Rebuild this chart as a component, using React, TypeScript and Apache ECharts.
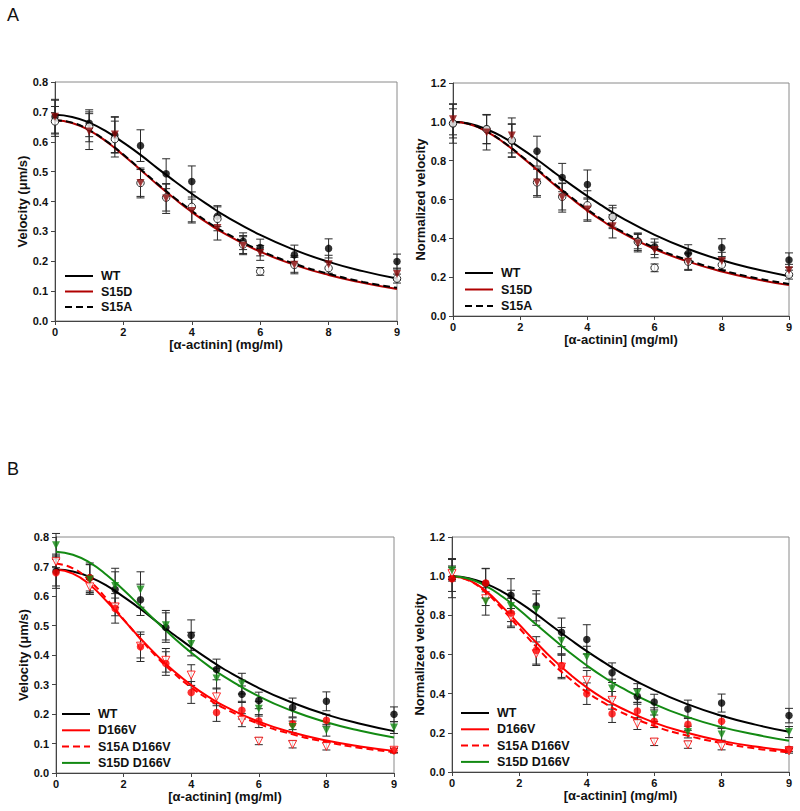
import React, { useEffect, useRef } from 'react';
import * as echarts from 'echarts';

// Plotted x positions of measured points (last tick drawn at 10, labelled "9" in the figure)
const xPoints = [0, 1, 1.75, 2.5, 3.25, 4, 4.75, 5.5, 6, 7, 8, 10];
// x positions where the fitted curves were read
const xCurve = [0, 0.5, 1, 1.5, 2, 2.5, 3, 3.5, 4, 4.5, 5, 6, 7, 8, 9, 10];
const xTickValues = [0, 2, 4, 6, 8, 10];
const xTickLabels = ['0', '2', '4', '6', '8', '9'];

// ---- Panel A, velocity ----
const aWT = [0.684, 0.662, 0.622, 0.587, 0.493, 0.467, 0.351, 0.267, 0.246, 0.222, 0.243, 0.199];
const aWTErr = [0.058, 0.045, 0.06, 0.053, 0.05, 0.052, 0.035, 0.028, 0.028, 0.032, 0.032, 0.025];
const aS15D = [0.684, 0.634, 0.624, 0.462, 0.41, 0.368, 0.311, 0.252, 0.228, 0.188, 0.19, 0.157];
const aS15DErr = [0.055, 0.06, 0.06, 0.05, 0.05, 0.04, 0.04, 0.03, 0.025, 0.03, 0.03, 0.02];
const aS15A = [0.668, 0.65, 0.609, 0.462, 0.413, 0.382, 0.342, 0.256, 0.166, 0.188, 0.177, 0.142];
const aS15AErr = [0.05, 0.05, 0.06, 0.045, 0.045, 0.05, 0.04, 0.03, 0.013, 0.025, 0.02, 0.015];
const fitAWT = [0.69, 0.683, 0.664, 0.635, 0.597, 0.556, 0.511, 0.468, 0.426, 0.387, 0.35, 0.288, 0.238, 0.198, 0.167, 0.142];
const fitAS15D = [0.672, 0.663, 0.638, 0.601, 0.555, 0.506, 0.456, 0.409, 0.365, 0.325, 0.29, 0.232, 0.188, 0.154, 0.128, 0.107];
const fitAS15A = [0.672, 0.664, 0.639, 0.602, 0.557, 0.508, 0.459, 0.412, 0.369, 0.329, 0.294, 0.236, 0.192, 0.158, 0.131, 0.111];

// ---- Panel A, normalized ----
const nWT = [0.99, 0.963, 0.902, 0.849, 0.713, 0.677, 0.507, 0.386, 0.357, 0.322, 0.352, 0.288];
const nWTErr = [0.1, 0.075, 0.085, 0.077, 0.073, 0.075, 0.05, 0.04, 0.04, 0.045, 0.046, 0.037];
const nS15D = [1.013, 0.945, 0.93, 0.687, 0.61, 0.548, 0.462, 0.375, 0.34, 0.28, 0.283, 0.236];
const nS15DErr = [0.08, 0.09, 0.09, 0.075, 0.075, 0.06, 0.06, 0.045, 0.04, 0.045, 0.045, 0.03];
const nS15A = [0.992, 0.962, 0.905, 0.688, 0.614, 0.57, 0.51, 0.382, 0.248, 0.28, 0.264, 0.213];
const nS15AErr = [0.075, 0.075, 0.085, 0.068, 0.068, 0.075, 0.06, 0.045, 0.02, 0.04, 0.03, 0.023];
const fitNWT = [1, 0.99, 0.962, 0.92, 0.866, 0.806, 0.741, 0.678, 0.617, 0.561, 0.508, 0.418, 0.345, 0.287, 0.242, 0.205];
const fitNS15D = [1, 0.987, 0.95, 0.894, 0.826, 0.753, 0.679, 0.609, 0.543, 0.484, 0.432, 0.345, 0.28, 0.229, 0.19, 0.159];
const fitNS15A = [1, 0.988, 0.951, 0.896, 0.829, 0.757, 0.684, 0.614, 0.549, 0.49, 0.438, 0.352, 0.287, 0.236, 0.196, 0.165];

// ---- Panel B, velocity ----
const bD166V = [0.679, 0.662, 0.558, 0.428, 0.371, 0.273, 0.205, 0.213, 0.176, 0.167, 0.179, 0.076];
const bD166VErr = [0.045, 0.05, 0.05, 0.05, 0.04, 0.037, 0.03, 0.03, 0.022, 0.02, 0.02, 0.008];
const bS15AD = [0.716, 0.631, 0.563, 0.43, 0.382, 0.332, 0.258, 0.179, 0.108, 0.097, 0.09, 0.077];
const bS15ADErr = [0.02, 0.025, 0.03, 0.04, 0.04, 0.035, 0.03, 0.022, 0.012, 0.012, 0.012, 0.008];
const bS15DD = [0.772, 0.656, 0.634, 0.622, 0.501, 0.437, 0.32, 0.303, 0.218, 0.156, 0.145, 0.154];
const bS15DDErr = [0.04, 0.05, 0.06, 0.06, 0.05, 0.04, 0.035, 0.035, 0.025, 0.02, 0.02, 0.02];
const fitBD166V = [0.69, 0.676, 0.638, 0.582, 0.519, 0.456, 0.397, 0.344, 0.298, 0.259, 0.226, 0.174, 0.137, 0.11, 0.09, 0.075];
const fitBS15AD = [0.71, 0.694, 0.651, 0.59, 0.521, 0.454, 0.391, 0.337, 0.29, 0.251, 0.218, 0.167, 0.131, 0.105, 0.085, 0.071];
const fitBS15DD = [0.75, 0.74, 0.713, 0.671, 0.62, 0.565, 0.51, 0.457, 0.408, 0.364, 0.325, 0.26, 0.21, 0.172, 0.143, 0.12];

// ---- Panel B, normalized ----
const nD166V = [0.987, 0.965, 0.812, 0.621, 0.543, 0.4, 0.298, 0.311, 0.259, 0.243, 0.259, 0.116];
const nD166VErr = [0.065, 0.075, 0.075, 0.07, 0.06, 0.055, 0.045, 0.045, 0.032, 0.03, 0.03, 0.012];
const nS15AD = [1.013, 0.885, 0.79, 0.604, 0.536, 0.468, 0.366, 0.247, 0.153, 0.139, 0.131, 0.108];
const nS15ADErr = [0.03, 0.035, 0.045, 0.06, 0.06, 0.05, 0.045, 0.03, 0.018, 0.018, 0.018, 0.012];
const nS15DD = [1.03, 0.871, 0.848, 0.829, 0.67, 0.587, 0.426, 0.403, 0.293, 0.204, 0.192, 0.204];
const nS15DDErr = [0.055, 0.07, 0.08, 0.08, 0.068, 0.055, 0.048, 0.048, 0.035, 0.03, 0.03, 0.028];
const fitND166V = [1, 0.98, 0.925, 0.843, 0.752, 0.661, 0.575, 0.499, 0.432, 0.375, 0.328, 0.252, 0.199, 0.159, 0.13, 0.109];
const fitNS15AD = [1, 0.978, 0.917, 0.831, 0.734, 0.639, 0.551, 0.475, 0.408, 0.354, 0.307, 0.235, 0.185, 0.148, 0.12, 0.1];
const fitNS15DD = [1, 0.987, 0.951, 0.895, 0.827, 0.753, 0.68, 0.609, 0.544, 0.485, 0.433, 0.347, 0.28, 0.229, 0.191, 0.16];

const legendA = ['WT', 'S15D', 'S15A'];
const legendB = ['WT', 'D166V', 'S15A D166V', 'S15D D166V'];

const FONT = '"Liberation Sans", Arial, Helvetica, sans-serif';
const BLACK = '#000000';
const DARKRED = '#b00000';
const MAROON = '#8b0a0a';
const RED = '#ff0000';
const GREEN = '#138a13';

const pairs = (xs: number[], ys: number[]) => xs.map((x, i) => [x, ys[i]]);
const triples = (xs: number[], ys: number[], es: number[]) => xs.map((x, i) => [x, ys[i], es[i]]);

function errSeries(idx: number, ys: number[], es: number[]) {
  return {
    type: 'custom',
    xAxisIndex: idx,
    yAxisIndex: idx,
    silent: true,
    z: 1,
    encode: { x: 0, y: 1 },
    data: triples(xPoints, ys, es),
    renderItem: (_p: any, api: any) => {
      const x = api.value(0);
      const y = api.value(1);
      const e = api.value(2);
      const t = api.coord([x, y + e]);
      const b = api.coord([x, y - e]);
      const cw = 4;
      const st = { stroke: '#2a2a2a', lineWidth: 1 };
      return {
        type: 'group',
        children: [
          { type: 'line', shape: { x1: t[0], y1: t[1], x2: b[0], y2: b[1] }, style: st },
          { type: 'line', shape: { x1: t[0] - cw, y1: t[1], x2: t[0] + cw, y2: t[1] }, style: st },
          { type: 'line', shape: { x1: b[0] - cw, y1: b[1], x2: b[0] + cw, y2: b[1] }, style: st },
        ],
      };
    },
  };
}

function curveSeries(idx: number, name: string, ys: number[], color: string, dashed: boolean) {
  return {
    type: 'line',
    name,
    xAxisIndex: idx,
    yAxisIndex: idx,
    data: pairs(xCurve, ys),
    smooth: 0.5,
    symbol: 'none',
    silent: true,
    z: 3,
    lineStyle: { color, width: 2, type: dashed ? [7, 4] : 'solid' },
  };
}

function markSeries(idx: number, name: string, ys: number[], shape: 'circle' | 'tri', color: string, open: boolean) {
  return {
    type: 'scatter',
    name,
    xAxisIndex: idx,
    yAxisIndex: idx,
    data: pairs(xPoints, ys),
    symbol: shape === 'circle' ? 'circle' : 'triangle',
    symbolRotate: shape === 'tri' ? 180 : 0,
    symbolSize: shape === 'circle' ? 7.5 : 8,
    silent: true,
    z: 4,
    itemStyle: open
      ? { color: '#ffffff', borderColor: color, borderWidth: 1 }
      : { color, borderColor: color, borderWidth: 0 },
  };
}

const grids = [
  { left: 55, top: 82, width: 342, height: 239 },
  { left: 453, top: 83, width: 336, height: 233 },
  { left: 56, top: 537, width: 338, height: 236 },
  { left: 452, top: 537, width: 337, height: 235 },
];

const labelStyle = { fontFamily: FONT, fontWeight: 'bold' as const, fontSize: 11, color: '#111' };
const nameStyle = { fontFamily: FONT, fontWeight: 'bold' as const, fontSize: 13, color: '#111' };

function xAxis(idx: number) {
  return {
    type: 'value',
    gridIndex: idx,
    min: 0,
    max: 10,
    interval: 2,
    name: '[α-actinin] (mg/ml)',
    nameLocation: 'middle',
    nameGap: 16,
    nameTextStyle: nameStyle,
    axisLine: { show: true, lineStyle: { color: '#444', width: 1 } },
    axisTick: { show: true, inside: false, length: 4, lineStyle: { color: '#444' } },
    axisLabel: {
      ...labelStyle,
      margin: 5,
      formatter: (v: number) => {
        const i = xTickValues.indexOf(v);
        return i >= 0 ? xTickLabels[i] : '';
      },
    },
    splitLine: { show: false },
  };
}

function yAxis(idx: number, max: number, interval: number, name: string) {
  return {
    type: 'value',
    gridIndex: idx,
    min: 0,
    max,
    interval,
    name,
    nameLocation: 'middle',
    nameGap: 26,
    nameTextStyle: nameStyle,
    axisLine: { show: true, lineStyle: { color: '#444', width: 1 } },
    axisTick: { show: true, inside: false, length: 4, lineStyle: { color: '#444' } },
    axisLabel: { ...labelStyle, margin: 7, formatter: (v: number) => v.toFixed(1) },
    splitLine: { show: false },
  };
}

function legendGraphics(x: number, y0: number, step: number, names: string[], colors: string[], dashes: boolean[]) {
  const out: any[] = [];
  names.forEach((n, i) => {
    const y = y0 + i * step;
    out.push({
      type: 'line',
      shape: { x1: x, y1: y, x2: x + 28, y2: y },
      style: { stroke: colors[i], lineWidth: 2, lineDash: dashes[i] ? [7, 4] : null },
      silent: true,
    });
    out.push({
      type: 'text',
      x: x + 36,
      y,
      style: { text: n, fill: '#111', font: `bold 12.5px ${FONT}`, textVerticalAlign: 'middle' },
      silent: true,
    });
  });
  return out;
}

export default function App() {
  const ref = useRef<HTMLDivElement>(null);

  useEffect(() => {
    document.body.style.margin = '0';
    if (!ref.current) return;
    const chart = echarts.init(ref.current, undefined, { renderer: 'svg' });

    const colorsA = [BLACK, DARKRED, BLACK];
    const dashA = [false, false, true];
    const colorsB = [BLACK, RED, RED, GREEN];
    const dashB = [false, false, true, false];

    const option: any = {
      animation: false,
      backgroundColor: '#ffffff',
      grid: grids.map((g) => ({ ...g, show: true, borderColor: '#8a8a8a', borderWidth: 1, backgroundColor: 'transparent' })),
      xAxis: [xAxis(0), xAxis(1), xAxis(2), xAxis(3)],
      yAxis: [
        yAxis(0, 0.8, 0.1, 'Velocity (μm/s)'),
        yAxis(1, 1.2, 0.2, 'Normalized velocity'),
        yAxis(2, 0.8, 0.1, 'Velocity (μm/s)'),
        yAxis(3, 1.2, 0.2, 'Normalized velocity'),
      ],
      series: [
        // Panel A velocity
        errSeries(0, aWT, aWTErr),
        errSeries(0, aS15D, aS15DErr),
        errSeries(0, aS15A, aS15AErr),
        curveSeries(0, 'WT', fitAWT, BLACK, false),
        curveSeries(0, 'S15D', fitAS15D, DARKRED, false),
        curveSeries(0, 'S15A', fitAS15A, BLACK, true),
        markSeries(0, 'WT data', aWT, 'circle', BLACK, false),
        markSeries(0, 'S15A data', aS15A, 'circle', BLACK, true),
        markSeries(0, 'S15D data', aS15D, 'tri', MAROON, false),
        // Panel A normalized
        errSeries(1, nWT, nWTErr),
        errSeries(1, nS15D, nS15DErr),
        errSeries(1, nS15A, nS15AErr),
        curveSeries(1, 'WT', fitNWT, BLACK, false),
        curveSeries(1, 'S15D', fitNS15D, DARKRED, false),
        curveSeries(1, 'S15A', fitNS15A, BLACK, true),
        markSeries(1, 'WT data', nWT, 'circle', BLACK, false),
        markSeries(1, 'S15A data', nS15A, 'circle', BLACK, true),
        markSeries(1, 'S15D data', nS15D, 'tri', MAROON, false),
        // Panel B velocity
        errSeries(2, aWT, aWTErr),
        errSeries(2, bD166V, bD166VErr),
        errSeries(2, bS15AD, bS15ADErr),
        errSeries(2, bS15DD, bS15DDErr),
        curveSeries(2, 'WT', fitAWT, BLACK, false),
        curveSeries(2, 'D166V', fitBD166V, RED, false),
        curveSeries(2, 'S15A D166V', fitBS15AD, RED, true),
        curveSeries(2, 'S15D D166V', fitBS15DD, GREEN, false),
        markSeries(2, 'WT data', aWT, 'circle', BLACK, false),
        markSeries(2, 'S15A D166V data', bS15AD, 'tri', RED, true),
        markSeries(2, 'D166V data', bD166V, 'circle', RED, false),
        markSeries(2, 'S15D D166V data', bS15DD, 'tri', GREEN, false),
        // Panel B normalized
        errSeries(3, nWT, nWTErr),
        errSeries(3, nD166V, nD166VErr),
        errSeries(3, nS15AD, nS15ADErr),
        errSeries(3, nS15DD, nS15DDErr),
        curveSeries(3, 'WT', fitNWT, BLACK, false),
        curveSeries(3, 'D166V', fitND166V, RED, false),
        curveSeries(3, 'S15A D166V', fitNS15AD, RED, true),
        curveSeries(3, 'S15D D166V', fitNS15DD, GREEN, false),
        markSeries(3, 'WT data', nWT, 'circle', BLACK, false),
        markSeries(3, 'S15A D166V data', nS15AD, 'tri', RED, true),
        markSeries(3, 'D166V data', nD166V, 'circle', RED, false),
        markSeries(3, 'S15D D166V data', nS15DD, 'tri', GREEN, false),
      ],
      graphic: [
        { type: 'text', x: 7, y: 6, style: { text: 'A', fill: '#111', font: `18px ${FONT}` }, silent: true },
        { type: 'text', x: 7, y: 460, style: { text: 'B', fill: '#111', font: `18px ${FONT}` }, silent: true },
        ...legendGraphics(65, 276, 15.5, legendA, colorsA, dashA),
        ...legendGraphics(465, 273, 16.5, legendA, colorsA, dashA),
        ...legendGraphics(62, 714, 16.3, legendB, colorsB, dashB),
        ...legendGraphics(461, 713, 16.3, legendB, colorsB, dashB),
      ],
    };

    chart.setOption(option);
    return () => {
      chart.dispose();
    };
  }, []);

  return <div ref={ref} style={{ width: 800, height: 811, background: '#fff' }} />;
}
